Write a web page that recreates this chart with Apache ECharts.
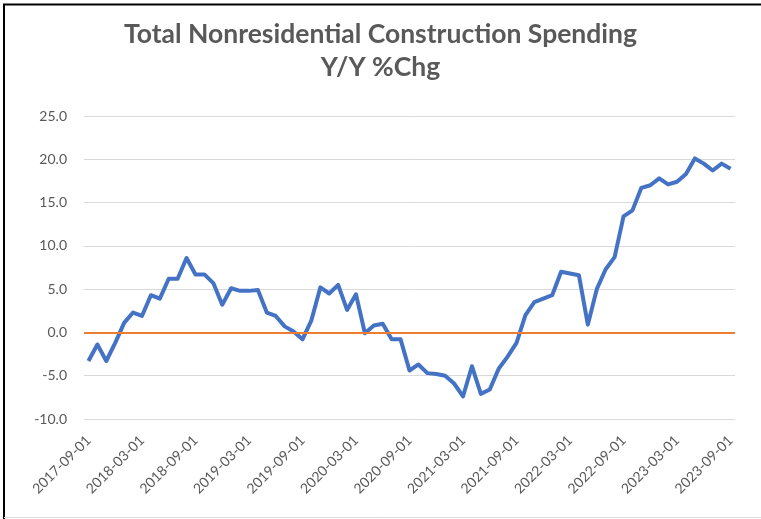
<!DOCTYPE html>
<html>
<head>
<meta charset="utf-8">
<script src="https://cdn.jsdelivr.net/npm/echarts@6/dist/echarts.min.js"></script>
<style>
  html, body { margin: 0; padding: 0; background: #fff; }
  #chart { width: 761px; height: 519px; }
</style>
</head>
<body>
<div id="chart"></div>
<script>
// monthly dates 2017-09-01 .. 2023-09-01
var months = [
  '2017-09-01','2017-10-01','2017-11-01','2017-12-01',
  '2018-01-01','2018-02-01','2018-03-01','2018-04-01','2018-05-01','2018-06-01',
  '2018-07-01','2018-08-01','2018-09-01','2018-10-01','2018-11-01','2018-12-01',
  '2019-01-01','2019-02-01','2019-03-01','2019-04-01','2019-05-01','2019-06-01',
  '2019-07-01','2019-08-01','2019-09-01','2019-10-01','2019-11-01','2019-12-01',
  '2020-01-01','2020-02-01','2020-03-01','2020-04-01','2020-05-01','2020-06-01',
  '2020-07-01','2020-08-01','2020-09-01','2020-10-01','2020-11-01','2020-12-01',
  '2021-01-01','2021-02-01','2021-03-01','2021-04-01','2021-05-01','2021-06-01',
  '2021-07-01','2021-08-01','2021-09-01','2021-10-01','2021-11-01','2021-12-01',
  '2022-01-01','2022-02-01','2022-03-01','2022-04-01','2022-05-01','2022-06-01',
  '2022-07-01','2022-08-01','2022-09-01','2022-10-01','2022-11-01','2022-12-01',
  '2023-01-01','2023-02-01','2023-03-01','2023-04-01','2023-05-01','2023-06-01',
  '2023-07-01','2023-08-01','2023-09-01'
];
// Y/Y % change
var yoyChg = [
  -3.3, -1.4, -3.3, -1.2,
  1.1, 2.3, 1.9, 4.3, 3.9, 6.2,
  6.2, 8.6, 6.7, 6.7, 5.7, 3.2,
  5.1, 4.8, 4.8, 4.9, 2.3, 1.9,
  0.7, 0.1, -0.8, 1.4, 5.2, 4.5,
  5.5, 2.6, 4.4, -0.1, 0.8, 1.0,
  -0.8, -0.8, -4.4, -3.7, -4.7, -4.8,
  -5.0, -5.9, -7.4, -3.9, -7.1, -6.6,
  -4.2, -2.8, -1.2, 2.0, 3.5, 3.9,
  4.3, 7.0, 6.8, 6.6, 0.9, 5.0,
  7.3, 8.7, 13.4, 14.1, 16.7, 17.0,
  17.8, 17.1, 17.4, 18.3, 20.1, 19.5,
  18.7, 19.5, 18.9
];
var yMin = -10, yMax = 25, yStep = 5;

var chart = echarts.init(document.getElementById('chart'));
var option = {
  backgroundColor: '#fff',
  animation: false,
  title: {
    text: 'Total Nonresidential Construction Spending\nY/Y %Chg',
    left: 'center',
    top: 13,
    textStyle: {
      color: '#595959',
      fontFamily: 'Lato',
      fontSize: 26.5,
      fontWeight: 'bold',
      lineHeight: 33
    }
  },
  grid: {
    left: 84,
    right: 26,
    top: 116,
    bottom: 100
  },
  xAxis: {
    type: 'category',
    boundaryGap: true,
    data: months,
    axisLine: { show: false },
    axisTick: { show: false },
    axisLabel: {
      interval: 5,
      rotate: 45,
      margin: 19,
      color: '#595959',
      fontFamily: 'Lato',
      fontSize: 14
    },
    splitLine: { show: false }
  },
  yAxis: {
    type: 'value',
    min: yMin,
    max: yMax,
    interval: yStep,
    axisLine: { show: false },
    axisTick: { show: false },
    axisLabel: {
      margin: 17,
      color: '#595959',
      fontFamily: 'Lato',
      fontSize: 14,
      formatter: function (v) { return v.toFixed(1); }
    },
    splitLine: { lineStyle: { color: '#d9d9d9', width: 1 } }
  },
  series: [{
    name: 'Y/Y %Chg',
    type: 'line',
    data: yoyChg,
    symbol: 'none',
    lineStyle: { color: '#4472c4', width: 4, join: 'round' },
    markLine: {
      silent: true,
      symbol: 'none',
      label: { show: false },
      lineStyle: { color: '#ed7d31', width: 2, type: 'solid' },
      data: [{ yAxis: 0 }]
    },
    z: 3
  }],
  graphic: [
    { type: 'line', shape: { x1: 3, y1: 4.5, x2: 761, y2: 4.5 }, style: { stroke: '#000', lineWidth: 2 } },
    { type: 'line', shape: { x1: 4, y1: 4, x2: 4, y2: 519 }, style: { stroke: '#000', lineWidth: 2 } },
    { type: 'line', shape: { x1: 4, y1: 517.5, x2: 761, y2: 517.5 }, style: { stroke: '#d9d9d9', lineWidth: 1 } }
  ]
};
chart.setOption(option);
</script>
</body>
</html>
